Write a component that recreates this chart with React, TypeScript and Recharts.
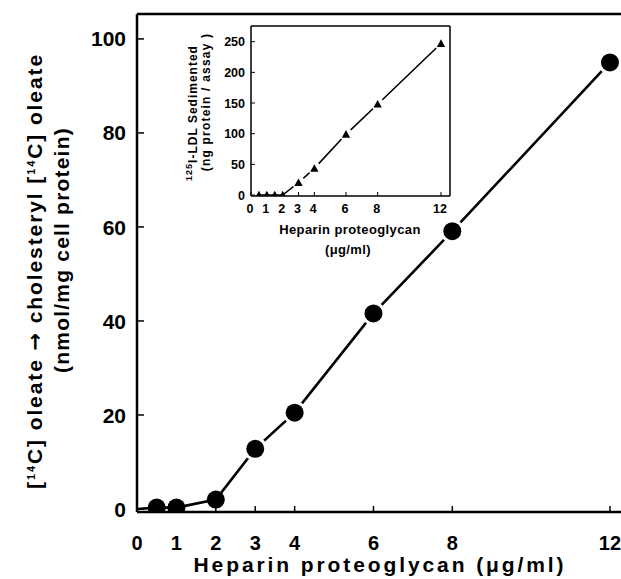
import React from 'react';
import { LineChart, Line, XAxis, YAxis, ReferenceLine } from 'recharts';

const W = 621;
const H = 579;
const FONT = '"Liberation Sans", Arial, Helvetica, sans-serif';
const ARROW_FONT = '"DejaVu Sans", sans-serif';

// main chart data
const mainX = [0, 0.5, 1, 2, 3, 4, 6, 8, 12];
const mainY = [0, 0.3, 0.3, 2, 12.8, 20.5, 41.6, 59.1, 95];
const mainXTicks = [0, 1, 2, 3, 4, 6, 8, 12];
const mainYTicks = [0, 20, 40, 60, 80, 100];

// inset data
const insetX = [0.5, 1, 1.5, 2, 3, 4, 6, 8, 12];
const insetY = [0, 0, 0, 0, 20, 43.5, 99, 148, 247];
const insetXTicks = [0, 1, 2, 3, 4, 6, 8, 12];
const insetYTicks = [0, 50, 100, 150, 200, 250];

const mainData = mainX.map((x, i) => ({ x, y: mainY[i] }));
const insetData = insetX.map((x, i) => ({ x, y: insetY[i] }));

const MAIN_XDOM: [number, number] = [0, 12.28];
const MAIN_YDOM: [number, number] = [-0.64, 105.3];
const INSET_XDOM: [number, number] = [0, 12.57];
const INSET_YDOM: [number, number] = [-1.6, 275.6];

const MainXTick = (p: any) => (
  <text x={p.x} y={p.y + 44} textAnchor="middle" fontSize={20} fontWeight="bold" fontFamily={FONT} fill="#000">
    {p.payload.value}
  </text>
);
const MainYTick = (p: any) => (
  <text x={p.x - 18} y={p.y} dy="0.36em" textAnchor="end" fontSize={21} fontWeight="bold" fontFamily={FONT} fill="#000">
    {p.payload.value}
  </text>
);
const InsetXTick = (p: any) => (
  <text x={p.x - 1} y={p.y + 21} textAnchor="middle" fontSize={12.5} fontWeight="bold" fontFamily={FONT} fill="#000">
    {p.payload.value}
  </text>
);
const InsetYTick = (p: any) => (
  <text x={p.x - 10} y={p.y} dy="0.36em" textAnchor="end" fontSize={12.5} fontWeight="bold" fontFamily={FONT} fill="#000">
    {p.payload.value}
  </text>
);

const MainDot = (p: any) => {
  const { cx, cy, index } = p;
  if (index === 0 || cx == null) return <g key={`md${index}`} />;
  return (
    <g key={`md${index}`}>
      {index >= 4 && <circle cx={cx} cy={cy} r={12} fill="#fff" />}
      <circle cx={cx} cy={cy} r={9} fill="#000" />
    </g>
  );
};

const TriDot = (p: any) => {
  const { cx, cy, index } = p;
  if (cx == null) return <g key={`td${index}`} />;
  const s = 4.2;
  const d = `M${cx},${cy - s} L${cx + s},${cy + s * 0.8} L${cx - s},${cy + s * 0.8} Z`;
  return (
    <g key={`td${index}`}>
      {index >= 4 && <circle cx={cx} cy={cy} r={6.5} fill="#fff" />}
      <path d={d} fill="#000" />
    </g>
  );
};

export default function App() {
  return (
    <div style={{ position: 'absolute', left: 0, top: 0, width: W, height: H, background: '#fff' }}>
      <div style={{ position: 'absolute', left: 0, top: 0 }}>
        <LineChart width={W} height={H} data={mainData} margin={{ top: 14, right: 0, bottom: 67, left: 137 }}>
          <XAxis
            type="number"
            dataKey="x"
            domain={MAIN_XDOM}
            allowDataOverflow
            ticks={mainXTicks}
            interval={0}
            mirror
            tickSize={6}
            tickMargin={0}
            axisLine={{ stroke: '#000', strokeWidth: 2.5 }}
            tickLine={{ stroke: '#000', strokeWidth: 1.5 }}
            tick={MainXTick}
          />
          <YAxis
            type="number"
            dataKey="y"
            domain={MAIN_YDOM}
            allowDataOverflow
            ticks={mainYTicks}
            interval={0}
            mirror
            tickSize={7}
            tickMargin={0}
            axisLine={{ stroke: '#000', strokeWidth: 2.5 }}
            tickLine={{ stroke: '#000', strokeWidth: 1.5 }}
            tick={MainYTick}
          />
          <ReferenceLine y={MAIN_YDOM[1]} stroke="#000" strokeWidth={2.5} />
          <Line
            type="linear"
            dataKey="y"
            stroke="#000"
            strokeWidth={2.6}
            dot={MainDot}
            activeDot={false}
            isAnimationActive={false}
          />
        </LineChart>
      </div>
      <div style={{ position: 'absolute', left: 0, top: 0 }}>
        <LineChart width={W} height={H} data={insetData} margin={{ top: 26, right: 171, bottom: 383, left: 251 }}>
          <XAxis
            type="number"
            dataKey="x"
            domain={INSET_XDOM}
            allowDataOverflow
            ticks={insetXTicks}
            interval={0}
            mirror
            tickSize={4}
            tickMargin={0}
            axisLine={{ stroke: '#000', strokeWidth: 1.5 }}
            tickLine={{ stroke: '#000', strokeWidth: 1 }}
            tick={InsetXTick}
          />
          <YAxis
            type="number"
            dataKey="y"
            domain={INSET_YDOM}
            allowDataOverflow
            ticks={insetYTicks}
            interval={0}
            mirror
            tickSize={4}
            tickMargin={0}
            axisLine={{ stroke: '#000', strokeWidth: 1.5 }}
            tickLine={{ stroke: '#000', strokeWidth: 1 }}
            tick={InsetYTick}
          />
          <ReferenceLine y={INSET_YDOM[1]} stroke="#000" strokeWidth={1.5} />
          <ReferenceLine x={INSET_XDOM[1]} stroke="#000" strokeWidth={1.5} />
          <Line
            type="linear"
            dataKey="y"
            stroke="#000"
            strokeWidth={1.6}
            dot={TriDot}
            activeDot={false}
            isAnimationActive={false}
          />
        </LineChart>
      </div>
      <svg width={W} height={H} style={{ position: 'absolute', left: 0, top: 0, pointerEvents: 'none' }}>
        <g fontFamily={FONT} fontWeight="bold" fill="#000">
          <text x={380} y={572} textAnchor="middle" fontSize={21} letterSpacing={2.9}>
            Heparin proteoglycan (μg/ml)
          </text>
          <text transform="translate(42,271) rotate(-90)" textAnchor="middle" fontSize={21} letterSpacing={1.9}>
            <tspan>[</tspan>
            <tspan fontSize={11} dy={-7}>14</tspan>
            <tspan dy={7}>C] oleate </tspan>
            <tspan fontFamily={ARROW_FONT}>→</tspan>
            <tspan> cholesteryl [</tspan>
            <tspan fontSize={11} dy={-7}>14</tspan>
            <tspan dy={7}>C] oleate</tspan>
          </text>
          <text transform="translate(69,250) rotate(-90)" textAnchor="middle" fontSize={21} letterSpacing={1.2}>
            (nmol/mg cell protein)
          </text>
          <text transform="translate(197,113) rotate(-90)" textAnchor="middle" fontSize={12} letterSpacing={1}>
            <tspan fontSize={9} dy={-5}>125</tspan>
            <tspan dy={5}>I-LDL Sedimented</tspan>
          </text>
          <text transform="translate(210,102) rotate(-90)" textAnchor="middle" fontSize={12} letterSpacing={1.2}>
            (ng protein / assay )
          </text>
          <text x={350} y={234} textAnchor="middle" fontSize={13} letterSpacing={0.4}>
            Heparin proteoglycan
          </text>
          <text x={348} y={254} textAnchor="middle" fontSize={13} letterSpacing={0.4}>
            (μg/ml)
          </text>
        </g>
      </svg>
    </div>
  );
}
